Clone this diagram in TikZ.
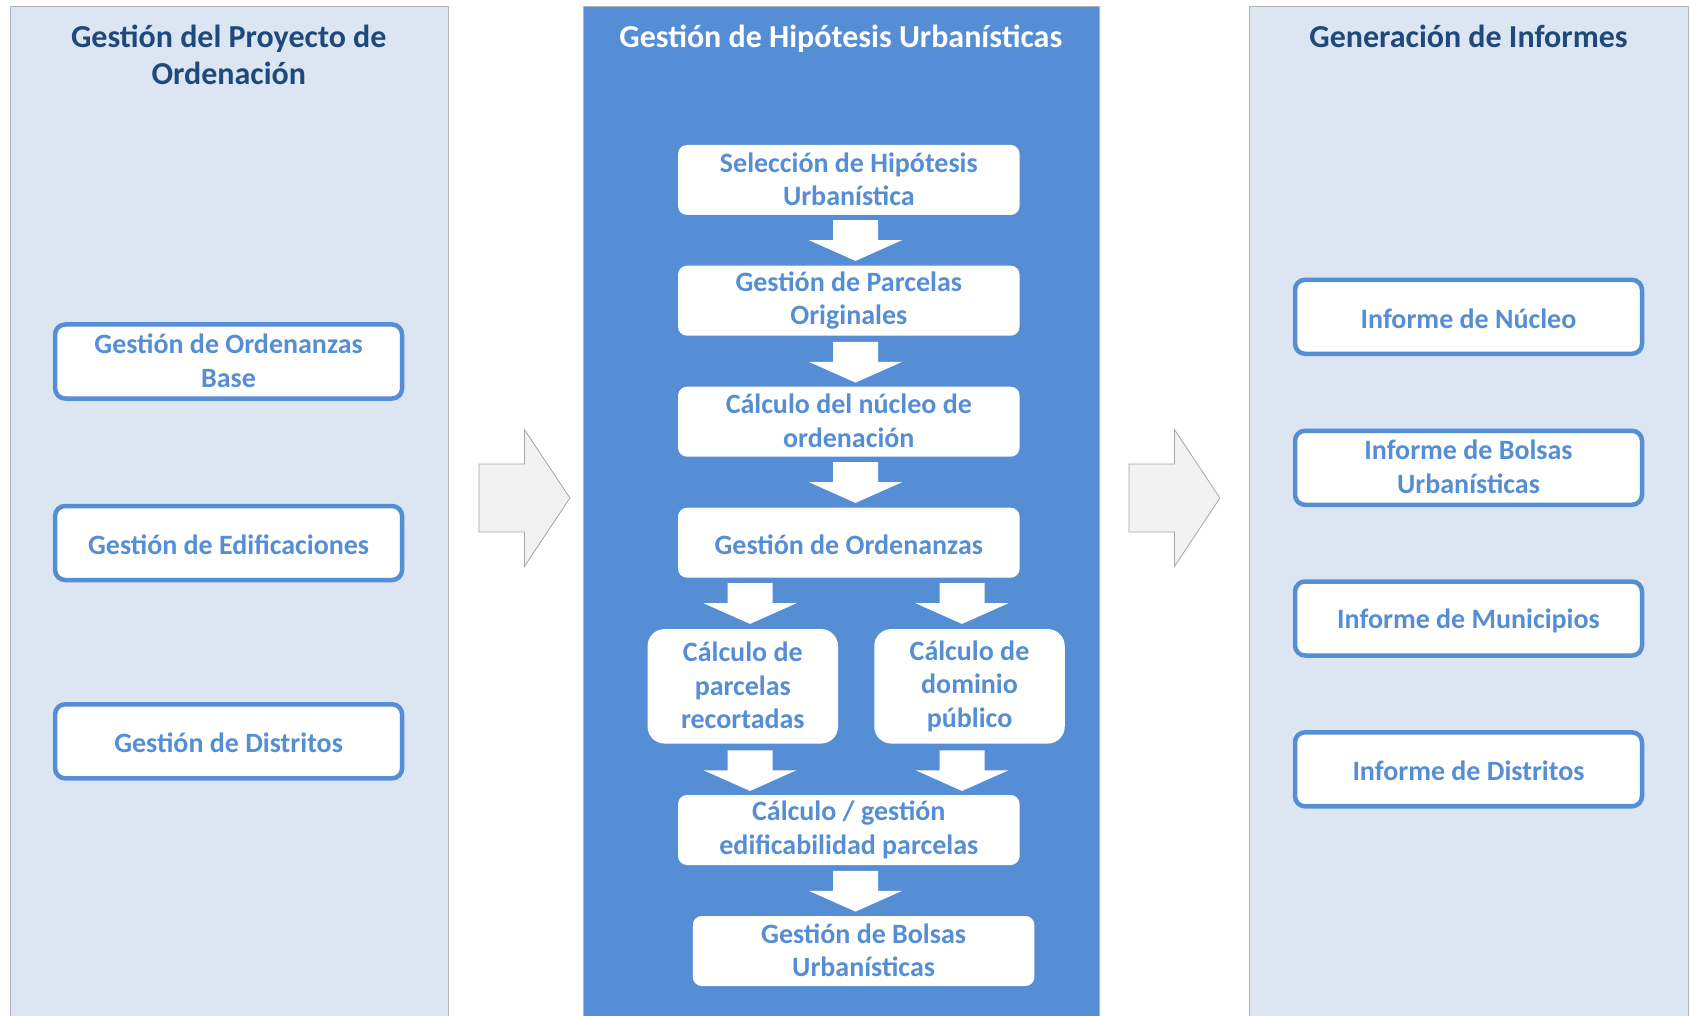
\documentclass[tikz,border=0pt]{standalone}
\usepackage{fontspec}
\setmainfont{Carlito}
\usetikzlibrary{calc}
\definecolor{panelbg}{HTML}{DCE6F2}
\definecolor{midblue}{HTML}{558ED5}
\definecolor{navy}{HTML}{1F497D}
\definecolor{panelline}{HTML}{B0B4BA}
\definecolor{garrowfill}{HTML}{F2F2F2}
\definecolor{garrowline}{HTML}{A6A6A6}
\newcommand\bxfont{\fontsize{28}{33.4}\selectfont\bfseries}
\newcommand\ttlfont{\fontsize{32}{37.5}\selectfont\bfseries}
\tikzset{
  panel/.style={draw=panelline, line width=0.9pt, fill=panelbg, anchor=north west, inner sep=0pt},
  midpanel/.style={draw=panelline, line width=0.9pt, fill=midblue, anchor=north west, inner sep=0pt},
  ttl/.style={font=\ttlfont, text=navy, align=center, inner sep=0pt},
  boxtext/.style={align=center, text=midblue, font=\bxfont, inner sep=0pt},
  sl/.style={execute at begin node={\rule{0pt}{25pt}}, execute at end node={\rule[-2pt]{0pt}{2pt}}},
  ml/.style={execute at begin node={\rule{0pt}{30pt}}, execute at end node={\rule[-2pt]{0pt}{2pt}}},
  lbox/.style={boxtext, draw=midblue, line width=4.5pt, fill=white, rounded corners=10pt,
    minimum width=347pt, minimum height=74pt},
  wbox/.style={boxtext, fill=white, rounded corners=9pt, minimum width=341.6pt, minimum height=70pt},
  sbox/.style={wbox, rounded corners=17pt, minimum width=190.5pt, minimum height=114.5pt},
  downarr/.pic={\fill[white] (-22.5,0) -- (22.5,0) -- (22.5,20) -- (46.5,20) -- (0,40.7) -- (-46.5,20) -- (-22.5,20) -- cycle;},
  grayarr/.pic={\filldraw[fill=garrowfill, draw=garrowline, line width=0.8pt]
     (0,-34) -- (45.5,-34) -- (45.5,-68.5) -- (91,0) -- (45.5,68.5) -- (45.5,34) -- (0,34) -- cycle;}
}
\begin{document}
\begin{tikzpicture}[x=1pt,y=-1pt]
\useasboundingbox (0,0) rectangle (1690,1016);
\clip (0,0) rectangle (1690,1016);
\fill[white] (0,0) rectangle (1690,1016);
% panels
\node[panel, minimum width=438.4pt, minimum height=1040pt] (lp) at (9.6,5.7) {};
\node[midpanel, minimum width=515.6pt, minimum height=1040pt] (mp) at (583,5.7) {};
\node[panel, minimum width=439pt, minimum height=1040pt] (rp) at (1249,5.7) {};
% titles
\node[ttl, anchor=base] (lt) at (228.8,85) {Gestión del Proyecto de\\Ordenación};
\node[ttl, anchor=base, text=white] (mt) at (840.8,47.5) {Gestión de Hipótesis Urbanísticas};
\node[ttl, anchor=base] (rt) at (1468.5,47.5) {Generación de Informes};
% left boxes
\node[lbox, ml] (l1) at (228.6,361.5) {Gestión de Ordenanzas\\Base};
\node[lbox, sl] (l2) at (228.6,543) {Gestión de Edificaciones};
\node[lbox, sl] (l3) at (228.6,741.3) {Gestión de Distritos};
% right boxes
\node[lbox, sl] (r1) at (1468.5,316.8) {Informe de Núcleo};
\node[lbox, ml] (r2) at (1468.5,467.8) {Informe de Bolsas\\Urbanísticas};
\node[lbox, sl] (r3) at (1468.5,618.5) {Informe de Municipios};
\node[lbox, sl] (r4) at (1468.5,769.3) {Informe de Distritos};
% middle boxes
\node[wbox, ml] (m1) at (848.8,180) {Selección de Hipótesis\\Urbanística};
\node[wbox, ml] (m2) at (848.8,300.7) {Gestión de Parcelas\\Originales};
\node[wbox, ml] (m3) at (848.8,421.7) {Cálculo del núcleo de\\ordenación};
\node[wbox, sl] (m4) at (848.8,542.7) {Gestión de Ordenanzas};
\node[sbox, ml] (m5a) at (742.8,686.3) {Cálculo de\\parcelas\\recortadas};
\node[sbox, ml] (m5b) at (969.5,686.3) {Cálculo de\\dominio\\público};
\node[wbox, ml] (m6) at (848.8,830) {Cálculo / gestión\\edificabilidad parcelas};
\node[wbox, ml] (m7) at (863.6,951) {Gestión de Bolsas\\Urbanísticas};
% white arrows
\pic at ($(m1.south)+(6.7,5)$) {downarr};
\pic at ($(m2.south)+(6.7,6)$) {downarr};
\pic at ($(m3.south)+(6.7,5.3)$) {downarr};
\pic at ($(m4.south)+(-98.8,5.3)$) {downarr};
\pic at ($(m4.south)+(113.2,5.3)$) {downarr};
\pic at ($(m5a.south)+(7.2,6.5)$) {downarr};
\pic at ($(m5b.south)+(-7.5,6.5)$) {downarr};
\pic at ($(m6.south)+(6.7,5.7)$) {downarr};
% gray arrows between panels
\pic at ($(lp.north east |- 0,498)+(30,0)$) {grayarr};
\pic at ($(mp.north east |- 0,498)+(29.4,0)$) {grayarr};
\end{tikzpicture}
\end{document}
